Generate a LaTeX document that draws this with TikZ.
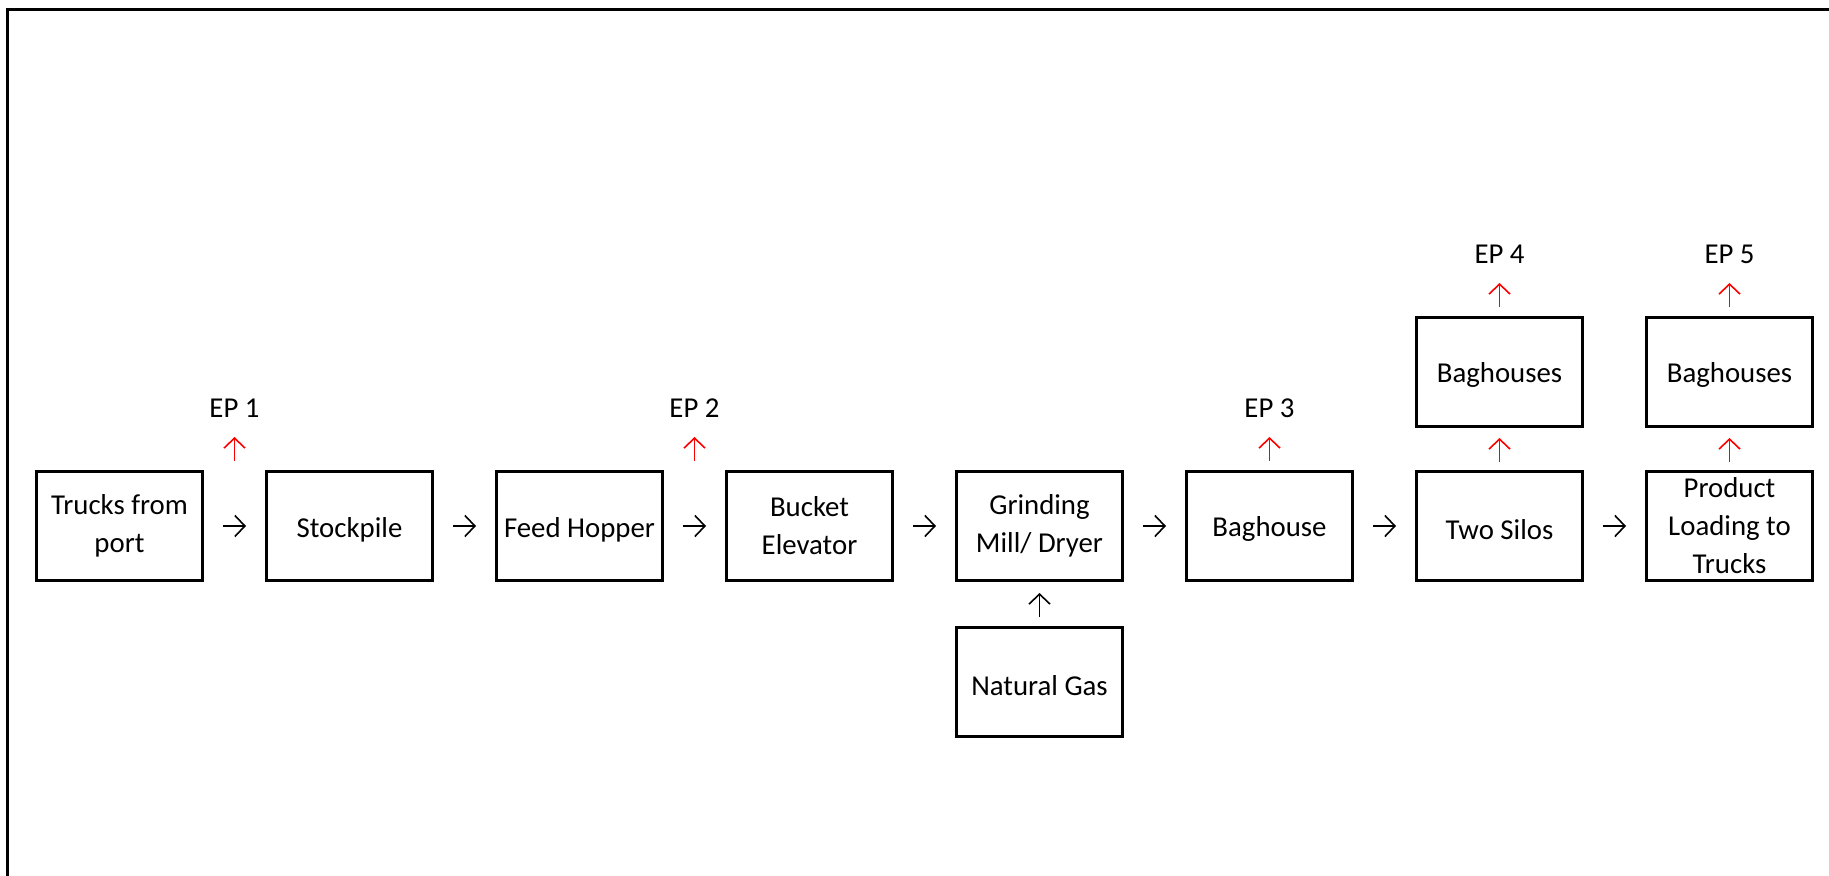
\documentclass[tikz,border=0pt]{standalone}
\usepackage{fontspec}
\setmainfont{Carlito}
\usetikzlibrary{arrows.meta,positioning}

\begin{document}
\begin{tikzpicture}[auto,node distance=30.5pt,
	stage/.style	={rectangle,draw,line width=1.5pt,inner sep=1pt,minimum width=83pt,minimum height=54.5pt,align=center,font=\fontsize{14.4}{19}\selectfont,execute at begin node={\rule{0pt}{13.4pt}}},
	eplabel/.style	={inner sep=0pt,outer sep=0pt,font=\fontsize{14.4}{19}\selectfont},
	flow/.style	={-{Straight Barb[length=5pt,width=10.5pt]}, line width=0.8pt, shorten <=9.5pt, shorten >=9.5pt},
	vent/.style	={flow, red, shorten <=4.5pt, shorten >=9.75pt},
	]
	\useasboundingbox (0,0) rectangle (914.5pt,-438pt);
	\draw [line width=1.5pt] (914.5pt,-4.75pt) -- (3.75pt,-4.75pt) -- (3.75pt,-438pt);

	\node [stage] (TR) at (59.75pt,-263pt) {Trucks from\\ port};
	\node [stage] (SP) [right=of TR] {Stockpile};
	\node [stage] (FH) [right=of SP] {Feed Hopper};
	\node [stage] (BE) [right=of FH] {Bucket\\ Elevator};
	\node [stage] (GM) [right=of BE] {Grinding\\ Mill/ Dryer};
	\node [stage] (BH) [right=of GM] {Baghouse};
	\node [stage] (TS) [right=of BH] {Two Silos};
	\node [stage] (PL) [right=of TS] {Product\\ Loading to\\ Trucks};
	\node [stage] (NG) [below=22pt of GM] {Natural Gas};
	\node [stage] (BS) [above=21pt of TS] {Baghouses};
	\node [stage] (BP) [above=21pt of PL] {Baghouses};

	% emission points
	\coordinate [right=15.25pt of TR.north east] (v1);
	\coordinate [right=15.25pt of FH.north east] (v2);
	\node [eplabel] (EP1) [above=26.25pt of v1] {EP 1};
	\node [eplabel] (EP2) [above=26.25pt of v2] {EP 2};
	\node [eplabel] (EP3) [above=26.25pt of BH.north] {EP 3};
	\node [eplabel] (EP4) [above=26.25pt of BS.north] {EP 4};
	\node [eplabel] (EP5) [above=26.25pt of BP.north] {EP 5};

	\foreach \from/\to in {TR/SP, SP/FH, FH/BE, BE/GM, GM/BH, BH/TS, TS/PL}
	\draw [flow] (\from) to (\to);

	\draw [flow, shorten <=4.5pt, shorten >=5.5pt] (NG) to (GM);

	\foreach \src/\ep in {v1/EP1, v2/EP2, BH/EP3, BS/EP4, BP/EP5}
	\draw [vent] (\src) to (\ep);

	\foreach \src/\bag in {TS/BS, PL/BP}
	\draw [vent, shorten <=4pt, shorten >=5pt] (\src) to (\bag);
\end{tikzpicture}
\end{document}
